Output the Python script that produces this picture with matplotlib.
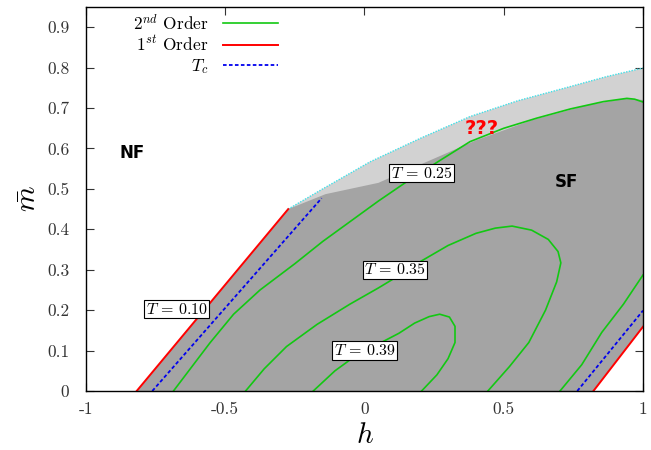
import matplotlib
matplotlib.use("Agg")
import matplotlib.pyplot as plt

plt.rcParams["mathtext.fontset"] = "cm"
plt.rcParams["font.family"] = ["cmr10", "DejaVu Serif"]
plt.rcParams["axes.unicode_minus"] = False

# === datos ===
# linea de 1er orden (izq. y der.)
first_left_h = [-0.818, -0.274]
first_left_m = [0.0, 0.45]
first_right_h = [0.822, 1.0]
first_right_m = [0.0, 0.159]

# T_c (izq. y der.)
tc_left_h = [-0.762, -0.154]
tc_left_m = [0.0, 0.477]
tc_right_h = [0.764, 1.0]
tc_right_m = [0.0, 0.199]

# curvas de 2do orden
t25_h = [-0.686, -0.62, -0.555, -0.47, -0.375, -0.25, -0.15, -0.05, 0.05, 0.152,
         0.27, 0.379, 0.5, 0.618, 0.74, 0.858, 0.942, 0.97, 1.0]
t25_m = [0.0, 0.06, 0.119, 0.19, 0.25, 0.315, 0.37, 0.42, 0.47, 0.518,
         0.57, 0.617, 0.65, 0.675, 0.698, 0.716, 0.724, 0.722, 0.715]
t25b_h = [0.702, 0.78, 0.852, 0.93, 1.0]
t25b_m = [0.0, 0.065, 0.145, 0.215, 0.287]
t35_h = [-0.427, -0.36, -0.28, -0.17, -0.052, 0.05, 0.11, 0.2, 0.3, 0.4, 0.47, 0.53,
         0.6, 0.66, 0.695, 0.705, 0.69, 0.65, 0.59, 0.52, 0.443]
t35_m = [0.0, 0.055, 0.11, 0.165, 0.215, 0.255, 0.28, 0.32, 0.36, 0.39, 0.403, 0.408,
         0.398, 0.375, 0.345, 0.317, 0.27, 0.2, 0.12, 0.06, 0.0]
t39_h = [-0.184, -0.106, -0.052, 0.005, 0.06, 0.124, 0.18, 0.232, 0.27, 0.305, 0.325,
         0.325, 0.3, 0.26, 0.205]
t39_m = [0.0, 0.05, 0.077, 0.10, 0.12, 0.143, 0.168, 0.184, 0.19, 0.183, 0.16,
         0.12, 0.08, 0.04, 0.0]

# borde superior de la region incierta (???)
top_h = [-0.274, -0.15, 0.02, 0.2, 0.379, 0.55, 0.738, 0.87, 1.0]
top_m = [0.45, 0.5, 0.567, 0.625, 0.679, 0.718, 0.753, 0.778, 0.799]
# borde de la region SF (gris oscuro)
sf_h = [-0.274, -0.14, 0.05, 0.2, 0.4, 0.6, 0.8, 0.94, 1.0]
sf_m = [0.45, 0.487, 0.515, 0.56, 0.62, 0.67, 0.707, 0.724, 0.72]

# etiquetas de temperatura
t_labels = [r"$T\,=\,0.10$", r"$T\,=\,0.25$", r"$T\,=\,0.35$", r"$T\,=\,0.39$"]
t_label_h = [-0.674, 0.205, 0.11, 0.0]
t_label_m = [0.202, 0.539, 0.30, 0.10]

# === figura ===
fig = plt.figure(figsize=(6.51, 4.50), dpi=100)
ax = fig.add_axes([0.1321, 0.1311, 0.8556, 0.8533])

# region clara (???)
ax.fill(first_left_h + top_h + first_right_h[::-1],
        first_left_m + top_m + first_right_m[::-1],
        color="#d2d2d2", lw=0, zorder=1)
# region SF
ax.fill(first_left_h + sf_h + first_right_h[::-1],
        first_left_m + sf_m + first_right_m[::-1],
        color="#a4a4a4", lw=0, zorder=2)
ax.plot(top_h, top_m, color="#40e0e8", ls=(0, (1, 1)), lw=1.0, zorder=3)

green = "#12c812"
ax.plot(t25_h, t25_m, color=green, lw=1.2, zorder=4, label="$2^{nd}$ Order")
ax.plot(t25b_h, t25b_m, color=green, lw=1.2, zorder=4)
ax.plot(t35_h, t35_m, color=green, lw=1.2, zorder=4)
ax.plot(t39_h, t39_m, color=green, lw=1.2, zorder=4)

ax.plot(first_left_h, first_left_m, color="#ff0000", lw=1.4, zorder=5, label="$1^{st}$ Order")
ax.plot(first_right_h, first_right_m, color="#ff0000", lw=1.4, zorder=5)
ax.plot(tc_left_h, tc_left_m, color="#0000ee", lw=1.3, ls=(0, (2, 1.3)), zorder=5, label="$T_c$")
ax.plot(tc_right_h, tc_right_m, color="#0000ee", lw=1.3, ls=(0, (2, 1.3)), zorder=5)

for txt, x, y in zip(t_labels, t_label_h, t_label_m):
    ax.text(x, y, txt, ha="center", va="center", fontsize=11.5, zorder=6,
            bbox=dict(boxstyle="square,pad=0.1", fc="white", ec="black", lw=0.8))

ax.text(-0.836, 0.589, "NF", family="DejaVu Sans", weight="bold", fontsize=12,
        ha="center", va="center", zorder=6)
ax.text(0.726, 0.518, "SF", family="DejaVu Sans", weight="bold", fontsize=12,
        ha="center", va="center", zorder=6)
ax.text(0.421, 0.65, "???", family="DejaVu Sans", weight="bold", fontsize=14,
        color="#ff0000", ha="center", va="center", zorder=6)

ax.set_xlim(-1, 1)
ax.set_ylim(0, 0.95)
ax.set_xticks([-1, -0.5, 0, 0.5, 1])
ax.set_xticklabels(["-1", "-0.5", "0", "0.5", "1"])
ax.set_yticks([0, 0.1, 0.2, 0.3, 0.4, 0.5, 0.6, 0.7, 0.8, 0.9])
ax.set_yticklabels(["0", "0.1", "0.2", "0.3", "0.4", "0.5", "0.6", "0.7", "0.8", "0.9"])
ax.tick_params(direction="in", length=6, width=0.8, top=True, right=True,
               labelsize=12.5, colors="#333333", labelcolor="#333333")
ax.tick_params(axis="y", pad=12)
ax.tick_params(axis="x", pad=8)
for s in ax.spines.values():
    s.set_linewidth(1.0)
    s.set_zorder(10)
ax.set_xlabel("$h$", fontsize=21, labelpad=4)
ax.set_ylabel(r"$\bar{m}$", fontsize=21, labelpad=4)

ax.legend(loc="upper right", bbox_to_anchor=(0.345, 0.985), frameon=False,
          markerfirst=False, fontsize=12.5, handlelength=3.2, handletextpad=0.8,
          labelspacing=0.15, borderpad=0, borderaxespad=0)

fig.savefig("out.png", dpi=100)
